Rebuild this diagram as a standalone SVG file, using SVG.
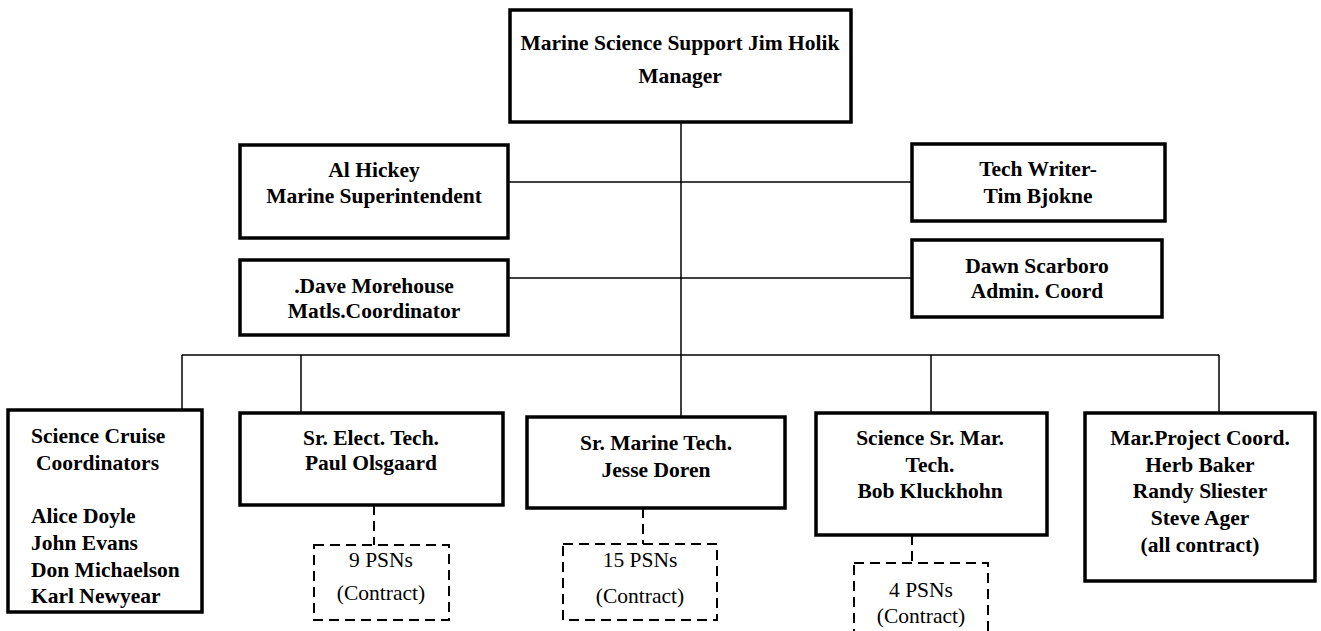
<svg xmlns="http://www.w3.org/2000/svg" width="1321" height="631" viewBox="0 0 1321 631">
<style>
.box{fill:#fff;stroke:#000;stroke-width:3.5}
.dbox{fill:#fff;stroke:#000;stroke-width:2;stroke-dasharray:10 6}
.ln{stroke:#000;stroke-width:1.5;fill:none}
.dln{stroke:#000;stroke-width:2;stroke-dasharray:10 6;fill:none}
text{font-family:"Liberation Serif","Times New Roman",serif;font-size:21.5px;fill:#000}
.b{font-weight:bold;text-anchor:middle}
.bl{font-weight:bold}
.r{text-anchor:middle}
</style>
<rect width="1321" height="631" fill="#fff"/>
<g id="connectors">
<line class="ln" x1="681" y1="122" x2="681" y2="355"/>
<line class="ln" x1="508" y1="182" x2="912" y2="182"/>
<line class="ln" x1="508" y1="278" x2="912" y2="278"/>
<line class="ln" x1="182" y1="355" x2="1219" y2="355"/>
<line class="ln" x1="182" y1="355" x2="182" y2="410"/>
<line class="ln" x1="301" y1="355" x2="301" y2="416"/>
<line class="ln" x1="681" y1="355" x2="681" y2="417"/>
<line class="ln" x1="931" y1="355" x2="931" y2="413"/>
<line class="ln" x1="1219" y1="355" x2="1219" y2="413"/>
<line class="dln" x1="374" y1="505" x2="374" y2="545"/>
<line class="dln" x1="643" y1="508" x2="643" y2="544"/>
<line class="dln" x1="912" y1="535" x2="912" y2="563"/>
</g>
<g id="manager">
<rect class="box" x="510" y="10" width="341" height="112"/>
<text class="b" x="680" y="50">Marine Science Support Jim Holik</text>
<text class="b" x="680" y="83">Manager</text>
</g>
<g id="hickey">
<rect class="box" x="240" y="145" width="268" height="93"/>
<text class="b" x="374" y="177">Al Hickey</text>
<text class="b" x="374" y="203">Marine Superintendent</text>
</g>
<g id="morehouse">
<rect class="box" x="240" y="260" width="268" height="75"/>
<text class="b" x="374" y="293">.Dave Morehouse</text>
<text class="b" x="374" y="318">Matls.Coordinator</text>
</g>
<g id="techwriter">
<rect class="box" x="912" y="144" width="253" height="77"/>
<text class="b" x="1038" y="176">Tech Writer-</text>
<text class="b" x="1038" y="203">Tim Bjokne</text>
</g>
<g id="scarboro">
<rect class="box" x="912" y="240" width="250" height="77"/>
<text class="b" x="1037" y="273">Dawn Scarboro</text>
<text class="b" x="1037" y="298">Admin. Coord</text>
</g>
<g id="cruise">
<rect class="box" x="8" y="410" width="194" height="202"/>
<text class="bl" x="31" y="443">Science Cruise</text>
<text class="bl" x="36" y="470">Coordinators</text>
<text class="bl" x="31" y="523">Alice Doyle</text>
<text class="bl" x="31" y="550">John Evans</text>
<text class="bl" x="31" y="577">Don Michaelson</text>
<text class="bl" x="31" y="603">Karl Newyear</text>
</g>
<g id="olsgaard">
<rect class="box" x="240" y="413" width="263" height="92"/>
<text class="b" x="371" y="445">Sr. Elect. Tech.</text>
<text class="b" x="371" y="470">Paul Olsgaard</text>
</g>
<g id="psn9">
<rect class="dbox" x="314" y="545" width="135" height="75"/>
<text class="r" x="381" y="567">9 PSNs</text>
<text class="r" x="381" y="600">(Contract)</text>
</g>
<g id="doren">
<rect class="box" x="527" y="417" width="258" height="91"/>
<text class="b" x="656" y="450">Sr. Marine Tech.</text>
<text class="b" x="656" y="477">Jesse Doren</text>
</g>
<g id="psn15">
<rect class="dbox" x="563" y="544" width="154" height="76"/>
<text class="r" x="640" y="567">15 PSNs</text>
<text class="r" x="640" y="603">(Contract)</text>
</g>
<g id="kluckhohn">
<rect class="box" x="816" y="413" width="231" height="122"/>
<text class="b" x="930" y="445">Science Sr. Mar.</text>
<text class="b" x="930" y="472">Tech.</text>
<text class="b" x="930" y="498">Bob Kluckhohn</text>
</g>
<g id="psn4">
<rect class="dbox" x="854" y="563" width="134" height="80"/>
<text class="r" x="921" y="597">4 PSNs</text>
<text class="r" x="921" y="623">(Contract)</text>
</g>
<g id="projcoord">
<rect class="box" x="1085" y="413" width="230" height="168"/>
<text class="b" x="1200" y="445">Mar.Project Coord.</text>
<text class="b" x="1200" y="472">Herb Baker</text>
<text class="b" x="1200" y="498">Randy Sliester</text>
<text class="b" x="1200" y="525">Steve Ager</text>
<text class="b" x="1200" y="552">(all contract)</text>
</g>
</svg>
